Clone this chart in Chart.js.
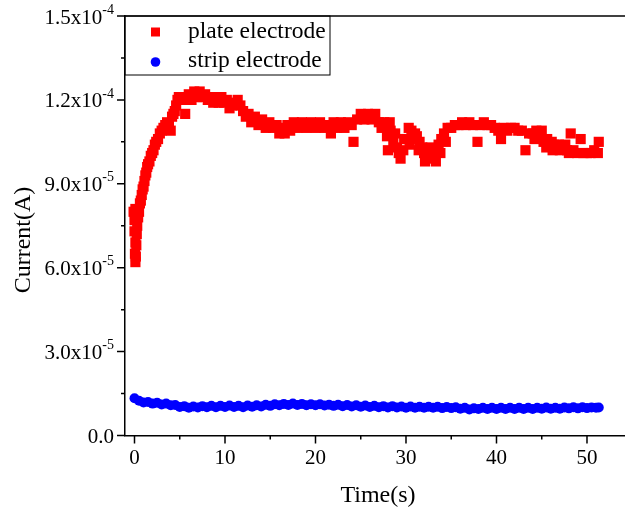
<!DOCTYPE html>
<html><head><meta charset="utf-8">
<script src="https://cdn.jsdelivr.net/npm/chart.js@4.4.1/dist/chart.umd.min.js"></script>
<style>html,body{margin:0;padding:0;background:#fff;}canvas{display:block;}</style>
</head><body>
<canvas id="c" width="625" height="511"></canvas>
<script>
// ---- data (current in microamperes, time in seconds) ----
const plateTime = [-0.1,0.0,0.1,0.0,0.1,0.05,0.1,0.15,0.2,0.25,0.3,0.4,0.5,0.6,0.7,0.8,0.9,1.0,1.1,1.2,1.3,1.4,1.5,1.65,1.8,1.95,2.1,2.25,2.4,2.6,2.8,3.0,3.2,3.4,3.6,3.8,4.0,4.15,4.3,4.45,4.6,4.75,4.9,5.1,5.3,5.5,5.6,5.8,6.0,6.3,6.6,6.9,7.2,7.5,7.8,8.1,8.4,8.7,9.0,9.3,9.6,9.9,10.2,10.5,10.8,11.1,11.4,11.7,12.0,12.3,12.6,12.9,13.3,13.7,14.1,14.5,14.9,15.3,15.7,16.0,16.3,16.6,16.9,17.2,17.6,18.0,18.5,19.0,19.5,20.0,20.5,21.0,21.4,21.7,22.0,22.4,22.8,23.2,23.6,24.0,24.2,24.6,25.0,25.4,25.8,26.2,26.6,27.0,27.3,27.6,27.9,28.0,28.3,28.6,29.0,29.4,29.7,30.0,30.3,30.6,30.9,31.2,31.5,31.8,32.1,32.4,32.7,33.0,33.3,33.6,33.9,34.2,34.6,35.0,35.4,35.8,36.2,36.6,37.0,37.4,37.9,38.2,38.6,39.0,39.4,39.8,40.2,40.5,40.8,41.2,41.6,42.0,42.4,42.8,43.2,43.6,44.0,44.4,44.8,45.2,45.5,45.8,46.1,46.4,46.7,47.0,47.4,47.8,48.2,48.5,48.9,49.3,49.6,50.0,50.4,50.8,51.2,51.3,
  28.2,28.8,29.2,29.8,30.4,31.0,31.4,32.0,32.6,33.2,33.8,34.4,44.2,45.0,45.6,46.2,46.9,47.6,48.0];
const plateCurrentMicroA = [80,77,81,73,69,65,62,64,68,72,75,78,80,83,84,86,88,89,91,93,94,96,97,98,100,101,102,104,105,106,108,109,110,111,112,111,109,114,115,116,118,120,121,121,120,121,115,121,122,120,123,121,123,121,122,120,121,119,121,119,121,119,120,117,118,119,120,118,116,114,115,112,114,111,113,110,112,110,111,108,110,108,111,109,112,110,112,110,112,110,112,110,111,108,112,110,112,110,112,111,105,113,115,113,115,113,115,112,110,112,107,102,109,105,103,99,102,106,110,109,106,107,105,103,98,102,103,100,98,104,106,108,110,110,111,111,112,111,112,111,105,111,112,111,111,110,109,106,110,109,110,110,109,109,102,108,108,109,107,105,103,104,105,104,103,102,103,102,108,102,101,106,101,101,101,102,101,105,
  112,108,101,106,104,108,102,101,99,102,101,105,106,109,106,102,104,104,101];

const stripTime = [0,0.5,1,1.5,2,2.5,3,3.5,4,4.5,5,5.5,6,6.5,7,7.5,8,8.5,9,9.5,10,10.5,11,11.5,12,12.5,13,13.5,14,14.5,15,15.5,16,16.5,17,17.5,18,18.5,19,19.5,20,20.5,21,21.5,22,22.5,23,23.5,24,24.5,25,25.5,26,26.5,27,27.5,28,28.5,29,29.5,30,30.5,31,31.5,32,32.5,33,33.5,34,34.5,35,35.5,36,36.5,37,37.5,38,38.5,39,39.5,40,40.5,41,41.5,42,42.5,43,43.5,44,44.5,45,45.5,46,46.5,47,47.5,48,48.5,49,49.5,50,50.5,51,51.3];
const stripCurrentMicroA = [13.3,12.4,11.8,12.0,11.4,11.7,11.1,11.4,10.8,10.9,10.2,10.5,9.9,10.4,10.0,10.5,10.1,10.6,10.1,10.6,10.2,10.7,10.2,10.6,10.1,10.7,10.3,10.8,10.4,11.0,10.6,11.2,10.8,11.3,10.9,11.4,10.9,11.3,10.8,11.2,10.8,11.2,10.7,11.0,10.6,11.0,10.5,10.9,10.4,10.8,10.3,10.7,10.2,10.6,10.1,10.5,10.0,10.5,10.0,10.4,9.9,10.4,9.9,10.3,9.9,10.3,9.9,10.3,9.8,10.2,9.8,10.1,9.6,9.9,9.3,9.7,9.5,9.9,9.5,9.9,9.5,9.9,9.5,9.9,9.5,9.9,9.5,9.9,9.5,9.9,9.6,10.0,9.6,9.9,9.6,10.0,9.7,10.1,9.7,10.1,9.8,10.0,9.9,10.0];

const seriesLabels = ['plate electrode', 'strip electrode'];
const xTickValues = [0, 10, 20, 30, 40, 50];
const xMinorTickValues = [5, 15, 25, 35, 45];
const yTickValues = [0, 3.0e-5, 6.0e-5, 9.0e-5, 1.2e-4, 1.5e-4];
const yMinorTickValues = [1.5e-5, 4.5e-5, 7.5e-5, 1.05e-4, 1.35e-4];
const yTickLabels = [['0.0',''],['3.0x10','-5'],['6.0x10','-5'],['9.0x10','-5'],['1.2x10','-4'],['1.5x10','-4']];
const xTitle = 'Time(s)';
const yTitle = 'Current(A)';

const toPoints = (ts, vs) => ts.map((t, i) => ({x: t, y: vs[i] * 1e-6}));

const FONT = "'Liberation Serif','Times New Roman',serif";

const decor = {
  id: 'decor',
  afterDraw(chart) {
    const ctx = chart.ctx, a = chart.chartArea;
    const xs = chart.scales.x, ys = chart.scales.y;
    ctx.save();
    ctx.strokeStyle = '#000';
    ctx.lineWidth = 1.5;
    ctx.beginPath(); ctx.moveTo(a.left, a.top); ctx.lineTo(a.right, a.top); ctx.stroke();
    ctx.beginPath();
    yTickValues.forEach(v => { const p = ys.getPixelForValue(v); ctx.moveTo(a.left - 8, p); ctx.lineTo(a.left, p); });
    yMinorTickValues.forEach(v => { const p = ys.getPixelForValue(v); ctx.moveTo(a.left - 4, p); ctx.lineTo(a.left, p); });
    xTickValues.forEach(v => { const p = xs.getPixelForValue(v); ctx.moveTo(p, a.bottom); ctx.lineTo(p, a.bottom + 8); });
    xMinorTickValues.forEach(v => { const p = xs.getPixelForValue(v); ctx.moveTo(p, a.bottom); ctx.lineTo(p, a.bottom + 4); });
    ctx.stroke();
    ctx.fillStyle = '#000';
    const rightEdge = a.left - 11;
    yTickValues.forEach((v, i) => {
      const p = ys.getPixelForValue(v);
      const [main, sup] = yTickLabels[i];
      ctx.font = '14px ' + FONT;
      const sw = sup ? ctx.measureText(sup).width : 0;
      ctx.textAlign = 'right'; ctx.textBaseline = 'middle';
      if (sup) ctx.fillText(sup, rightEdge, p - 6);
      ctx.font = '21px ' + FONT;
      ctx.fillText(main, rightEdge - sw, p + 2);
    });
    ctx.font = '24px ' + FONT;
    ctx.textAlign = 'center'; ctx.textBaseline = 'middle';
    ctx.fillText(xTitle, 378, 496);
    ctx.save();
    ctx.translate(24, 240);
    ctx.rotate(-Math.PI / 2);
    ctx.fillText(yTitle, 0, 0);
    ctx.restore();
    ctx.lineWidth = 1;
    ctx.strokeRect(a.left, a.top, 205, 59);
    const ds = chart.data.datasets;
    ctx.fillStyle = ds[0].backgroundColor;
    ctx.fillRect(151, 27.5, 9, 9);
    ctx.fillStyle = ds[1].backgroundColor;
    ctx.beginPath(); ctx.arc(155.5, 62, 4.8, 0, Math.PI * 2); ctx.fill();
    ctx.fillStyle = '#000';
    ctx.font = '23.5px ' + FONT;
    ctx.textAlign = 'left'; ctx.textBaseline = 'middle';
    ctx.fillText(ds[0].label, 188, 32);
    ctx.fillText(ds[1].label, 188, 61);
    ctx.restore();
  }
};

new Chart(document.getElementById('c'), {
  type: 'scatter',
  data: {
    datasets: [
      { label: seriesLabels[0], data: toPoints(plateTime, plateCurrentMicroA),
        pointStyle: 'rect', pointRadius: 7.2, pointHoverRadius: 7.2, borderWidth: 0,
        backgroundColor: '#ff0000', borderColor: '#ff0000', clip: false },
      { label: seriesLabels[1], data: toPoints(stripTime, stripCurrentMicroA),
        pointStyle: 'circle', pointRadius: 5, pointHoverRadius: 5, borderWidth: 0,
        backgroundColor: '#0000ff', borderColor: '#0000ff', clip: false }
    ]
  },
  options: {
    responsive: false,
    animation: false,
    devicePixelRatio: 1,
    layout: { autoPadding: false, padding: { top: 16, left: 0, right: 0, bottom: 0 } },
    plugins: { legend: { display: false }, tooltip: { enabled: false } },
    events: [],
    scales: {
      x: {
        type: 'linear', min: -1.05, max: 54.2,
        afterBuildTicks: s => { s.ticks = xTickValues.map(v => ({ value: v })); },
        afterFit: s => { s.height = 75.5; s.paddingLeft = 0; s.paddingRight = 0; },
        grid: { display: false, drawTicks: false },
        border: { display: true, color: '#000', width: 1.5 },
        ticks: { color: '#000', font: { family: FONT, size: 21 }, padding: 10, maxRotation: 0, autoSkip: false, includeBounds: false }
      },
      y: {
        type: 'linear', min: 0, max: 1.5e-4,
        afterBuildTicks: s => { s.ticks = yTickValues.map(v => ({ value: v })); },
        afterFit: s => { s.width = 125; s.paddingTop = 0; s.paddingBottom = 0; },
        grid: { display: false, drawTicks: false },
        border: { display: true, color: '#000', width: 1.5 },
        ticks: { display: false }
      }
    }
  },
  plugins: [decor]
});
</script>
</body></html>
